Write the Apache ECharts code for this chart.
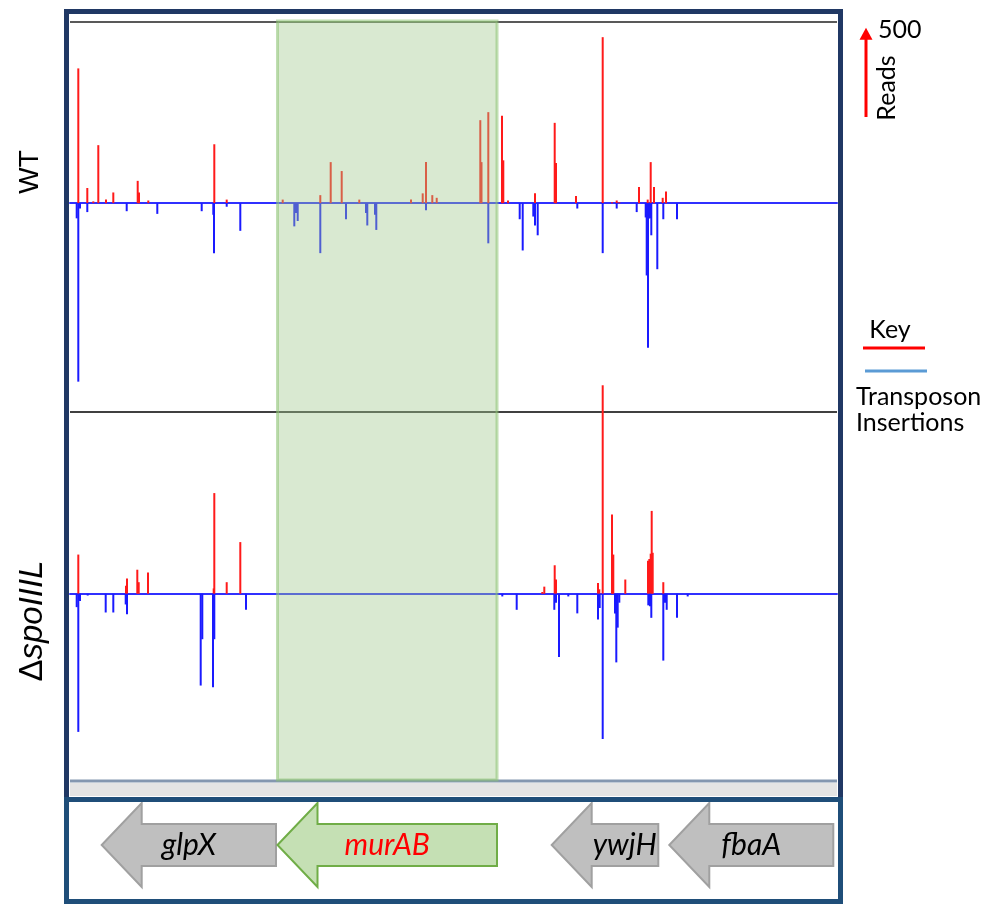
<!DOCTYPE html>
<html>
<head>
<meta charset="utf-8">
<title>Transposon insertions around murAB</title>
<script src="https://cdn.jsdelivr.net/npm/echarts@6/dist/echarts.min.js"></script>
<style>
html, body { margin: 0; padding: 0; background: #fff; }
#chart { width: 984px; height: 904px; }
</style>
</head>
<body>
<div id="chart"></div>
<script>
// position along the locus (0 = left edge of the track), reads at each insertion site
const wtForward = [
	[8.3, 755], [17.3, 85], [23.3, 10], [28.3, 325], [36, 20], [43.3, 60], [67.7, 125], [69, 60], [78.3, 15],
	[144.3, 330], [156.7, 20], [212.7, 20], [250.3, 45], [260.7, 230], [271.7, 180], [289.3, 20], [341, 20],
	[352.7, 55], [356, 230], [362.3, 45], [366.7, 30], [410.3, 465], [411.5, 230], [418.3, 510], [432, 490],
	[433.3, 240], [438, 15], [465, 55], [484.7, 450], [486, 225], [506, 40], [532.7, 930], [542, 5],
	[546.7, 15], [549.3, 5], [569, 90], [577.7, 20], [580.7, 230], [584, 90], [592.7, 30], [596, 65]
]
const wtReverse = [
	[6.7, -85], [8.3, -1000], [10, -30], [17.3, -50], [56.7, -45], [87.3, -60], [131.7, -45], [143.3, -65],
	[144, -280], [156.7, -20], [170.3, -155], [224.3, -130], [226, -55], [227.7, -100], [250.3, -280],
	[276, -90], [296, -55], [297.3, -125], [305, -65], [306.3, -150], [356, -40], [418.3, -225], [449.7, -90],
	[452.7, -265], [463.3, -75], [465, -125], [467.7, -180], [507.3, -30], [532.7, -280], [546.7, -30],
	[566.7, -50], [575.7, -80], [576.7, -405], [578, -810], [579.3, -85], [580, -85], [581.3, -180],
	[587.3, -370], [593.3, -90], [607, -90]
]
const spoForward = [
	[8.3, 220], [56, 45], [57, 85], [67.3, 135], [68.7, 65], [78, 120], [143.7, 30], [144.3, 565], [156.7, 65],
	[170.3, 290], [472.3, 10], [474.3, 40], [484.7, 160], [486, 80], [528, 60], [529.3, 25], [532.7, 1170],
	[542, 445], [543.3, 220], [555.3, 80], [578, 185], [579.3, 195], [580.7, 225], [581.7, 465], [582.7, 230],
	[593.3, 65]
]
const spoReverse = [
	[6.7, -75], [8.3, -775], [10, -40], [17.7, -10], [35.7, -105], [43.3, -105], [55.7, -60], [57, -115],
	[130.7, -515], [132.3, -255], [143, -525], [144.3, -255], [176, -90], [432.3, -15], [446.7, -90],
	[484.3, -90], [486, -50], [489, -355], [498.3, -15], [507.3, -110], [528, -145], [529.7, -80],
	[532.7, -815], [545, -110], [546.3, -385], [547.7, -190], [549.3, -50], [578.3, -65], [580, -70],
	[581.3, -135], [593.3, -375], [595, -50], [596.7, -90], [607, -135], [617.7, -15]
]

// genes: tip (start) and end along the same axis, all on the reverse strand
const geneNames = ['glpX', 'murAB', 'ywjH', 'fbaA']
const geneStart = [31.7, 207.5, 481.7, 599.3]
const geneEnd = [206, 427, 588.3, 763.3]
const focusGene = 'murAB'
const scaleReads = 500

const trackLen = 767

const chart = echarts.init(document.getElementById('chart'))

const red = '#ff1a1a'
const blue = '#1a1aff'

function spikes(data, color, xi) {
	return {
		type: 'bar',
		xAxisIndex: xi,
		yAxisIndex: xi,
		data: data,
		barWidth: 2,
		barGap: '-100%',
		clip: false,
		silent: true,
		itemStyle: { color: color },
		animation: false
	}
}

const measure = document.createElement('canvas').getContext('2d')
const geneFont = 'italic 30px Lato'

function renderGene(params, api) {
	const cs = params.coordSys
	const tip = api.coord([api.value(0), 0.5])
	const end = api.coord([api.value(1), 0.5])
	const mid = tip[1]
	const top = cs.y
	const bot = cs.y + cs.height
	const q = cs.height / 4
	const headX = tip[0] + 40
	const name = geneNames[params.dataIndex]
	const focus = name === focusGene
	measure.font = geneFont
	const tw = measure.measureText(name).width
	const tx = Math.max((tip[0] + end[0]) / 2, headX + tw / 2 + 1)
	return {
		type: 'group',
		children: [
			{
				type: 'polygon',
				shape: {
					points: [[tip[0], mid], [headX, top], [headX, mid - q], [end[0], mid - q], [end[0], mid + q], [headX, mid + q], [headX, bot]]
				},
				style: {
					fill: focus ? '#c5e0b4' : '#bfbfbf',
					stroke: focus ? '#70ad47' : '#a0a0a0',
					lineWidth: 2
				}
			},
			{
				type: 'text',
				x: tx,
				y: mid,
				style: {
					text: name,
					font: geneFont,
					fill: focus ? '#ff0000' : '#000',
					align: 'center',
					verticalAlign: 'middle'
				}
			}
		]
	}
}

const xBase = {
	type: 'value',
	min: 0,
	max: trackLen,
	axisTick: { show: false },
	axisLabel: { show: false },
	splitLine: { show: false }
}
const yBase = {
	type: 'value',
	show: false,
	splitLine: { show: false }
}

const option = {
	animation: false,
	grid: [
		{ left: 70, right: 147, top: 22, height: 390 },
		{ left: 70, right: 147, top: 412, height: 368 },
		{ left: 70, right: 147, top: 803, height: 84 }
	],
	xAxis: [
		Object.assign({}, xBase, { gridIndex: 0, axisLine: { onZero: true, lineStyle: { color: '#3030ff', width: 2 } } }),
		Object.assign({}, xBase, { gridIndex: 1, axisLine: { onZero: true, lineStyle: { color: '#3030ff', width: 2 } } }),
		Object.assign({}, xBase, { gridIndex: 2, show: false })
	],
	yAxis: [
		Object.assign({}, yBase, { gridIndex: 0, min: -1170, max: 1015 }),
		Object.assign({}, yBase, { gridIndex: 1, min: -1045, max: 1020 }),
		Object.assign({}, yBase, { gridIndex: 2, min: 0, max: 1 })
	],
	series: [
		spikes(wtForward, red, 0),
		spikes(wtReverse, blue, 0),
		spikes(spoForward, red, 1),
		spikes(spoReverse, blue, 1),
		{
			type: 'custom',
			xAxisIndex: 2,
			yAxisIndex: 2,
			silent: true,
			renderItem: renderGene,
			data: geneStart.map((s, i) => [s, geneEnd[i]])
		}
	]
}

chart.setOption(option)

// shading for the focus gene and the read-count scale bar, placed from the axes
const fi = geneNames.indexOf(focusGene)
const gx0 = chart.convertToPixel({ xAxisIndex: 0 }, geneStart[fi])
const gx1 = chart.convertToPixel({ xAxisIndex: 0 }, geneEnd[fi])
const barPx = chart.convertToPixel({ yAxisIndex: 0 }, 0) - chart.convertToPixel({ yAxisIndex: 0 }, scaleReads)
const arrowBottom = 117
const arrowTop = arrowBottom - barPx
const keyFont = '25px Lato'

chart.setOption({
	graphic: [
		// track dividers
		{ type: 'line', z: 1, silent: true, shape: { x1: 70, y1: 22, x2: 837, y2: 22 }, style: { stroke: '#595959', lineWidth: 2 } },
		{ type: 'line', z: 1, silent: true, shape: { x1: 70, y1: 412, x2: 837, y2: 412 }, style: { stroke: '#404040', lineWidth: 2 } },
		// focus gene shading, laid over the tracks
		{
			type: 'rect',
			z: 50,
			silent: true,
			shape: { x: gx0, y: 21, width: gx1 - gx0, height: 759 },
			style: { fill: 'rgba(160,200,140,0.4)', stroke: 'rgba(140,195,115,0.55)', lineWidth: 3 }
		},
		// bottom edge of the track window
		{ type: 'rect', z: 40, silent: true, shape: { x: 70, y: 783, width: 767, height: 13 }, style: { fill: '#e4e4e4' } },
		{ type: 'line', z: 41, silent: true, shape: { x1: 70, y1: 781, x2: 837, y2: 781 }, style: { stroke: '#8497b0', lineWidth: 3 } },
		// frames
		{ type: 'rect', z: 60, silent: true, shape: { x: 66.5, y: 11.5, width: 774, height: 788 }, style: { fill: null, stroke: '#203864', lineWidth: 5 } },
		{ type: 'rect', z: 60, silent: true, shape: { x: 66.5, y: 799.5, width: 774, height: 102 }, style: { fill: null, stroke: '#1f4e79', lineWidth: 5 } },
		// panel labels
		{
			type: 'text', z: 60, x: 30, y: 172, rotation: Math.PI / 2,
			style: { text: 'WT', font: '28px "Liberation Sans"', fill: '#000', align: 'center', verticalAlign: 'middle' }
		},
		{
			type: 'text', z: 60, x: 33, y: 621, rotation: Math.PI / 2,
			style: {
				text: '{a|Δ}{b|spoIIIL}',
				align: 'center', verticalAlign: 'middle',
				rich: {
					a: { font: '33px "Liberation Sans"', fill: '#000' },
					b: { font: 'italic 33px "Liberation Sans"', fill: '#000' }
				}
			}
		},
		// scale bar
		{ type: 'line', z: 60, shape: { x1: 866, y1: arrowBottom, x2: 866, y2: arrowTop + 10 }, style: { stroke: '#ff0000', lineWidth: 3 } },
		{ type: 'polygon', z: 60, shape: { points: [[866, arrowTop], [859.5, arrowTop + 12], [872.5, arrowTop + 12]] }, style: { fill: '#ff0000' } },
		{ type: 'text', z: 60, x: 878, y: 30, style: { text: String(scaleReads), font: keyFont, fill: '#000', verticalAlign: 'middle' } },
		{
			type: 'text', z: 60, x: 887, y: 88, rotation: Math.PI / 2,
			style: { text: 'Reads', font: keyFont, fill: '#000', align: 'center', verticalAlign: 'middle' }
		},
		// key
		{ type: 'text', z: 60, x: 890, y: 330, style: { text: 'Key', font: keyFont, fill: '#000', align: 'center', verticalAlign: 'middle' } },
		{ type: 'line', z: 60, shape: { x1: 863, y1: 348, x2: 925, y2: 348 }, style: { stroke: '#ff0000', lineWidth: 3 } },
		{ type: 'line', z: 60, shape: { x1: 865, y1: 371, x2: 927, y2: 371 }, style: { stroke: '#5b9bd5', lineWidth: 3 } },
		{ type: 'text', z: 60, x: 856, y: 397, style: { text: 'Transposon', font: keyFont, fill: '#000', verticalAlign: 'middle' } },
		{ type: 'text', z: 60, x: 856, y: 423, style: { text: 'Insertions', font: keyFont, fill: '#000', verticalAlign: 'middle' } }
	]
})
</script>
</body>
</html>
